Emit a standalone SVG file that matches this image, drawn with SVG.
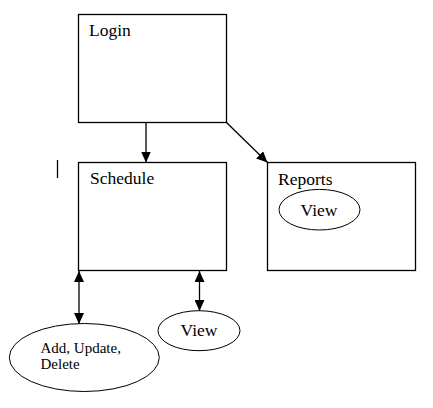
<svg xmlns="http://www.w3.org/2000/svg" width="433" height="408" viewBox="0 0 433 408">
<defs>
<marker id="ah" viewBox="0 0 11 10" refX="11" refY="5" markerWidth="11" markerHeight="10" markerUnits="userSpaceOnUse" orient="auto-start-reverse">
<path d="M0,0 L11,5 L0,10 Z" fill="#000"/>
</marker>
<style>
.box{fill:#fff;stroke:#000;stroke-width:1.3}
.ell{fill:#fff;stroke:#000;stroke-width:1}
.t{font-family:"Liberation Serif",serif;font-size:17.5px;fill:#000}
.ts{font-family:"Liberation Serif",serif;font-size:15px;fill:#000}
.c{stroke:#000;stroke-width:1.3;fill:none}
</style>
</defs>
<rect width="433" height="408" fill="#fff"/>
<g id="connectors">
<line class="c" x1="146" y1="122.5" x2="146" y2="162.5" marker-end="url(#ah)"/>
<line class="c" x1="226.5" y1="122.5" x2="267.5" y2="162.5" stroke-width="1" marker-end="url(#ah)"/>
<line class="c" x1="79" y1="271" x2="79" y2="324" marker-start="url(#ah)" marker-end="url(#ah)"/>
<line class="c" x1="199.5" y1="271" x2="199.5" y2="311" marker-start="url(#ah)" marker-end="url(#ah)"/>
<line class="c" x1="57.5" y1="160" x2="57.5" y2="178" stroke-width="1"/>
</g>
<g id="login">
<rect class="box" x="78.5" y="14.5" width="148" height="108"/>
<text class="t" x="89" y="36">Login</text>
</g>
<g id="schedule">
<rect class="box" x="78.5" y="162.5" width="148" height="108"/>
<text class="t" x="90" y="184">Schedule</text>
</g>
<g id="reports">
<rect class="box" x="267.5" y="162.5" width="148" height="108"/>
<text class="t" x="278" y="185">Reports</text>
</g>
<g id="reports-view">
<ellipse class="ell" cx="319.5" cy="209.7" rx="40.5" ry="20.3"/>
<text class="t" x="319" y="215.5" text-anchor="middle">View</text>
</g>
<g id="add-update-delete">
<ellipse class="ell" cx="84.3" cy="357.5" rx="75" ry="34"/>
<text class="ts" x="40.5" y="353">Add, Update,</text>
<text class="ts" x="40.5" y="369">Delete</text>
</g>
<g id="schedule-view">
<ellipse class="ell" cx="199" cy="330.7" rx="41" ry="20"/>
<text class="t" x="199" y="336" text-anchor="middle">View</text>
</g>
</svg>
